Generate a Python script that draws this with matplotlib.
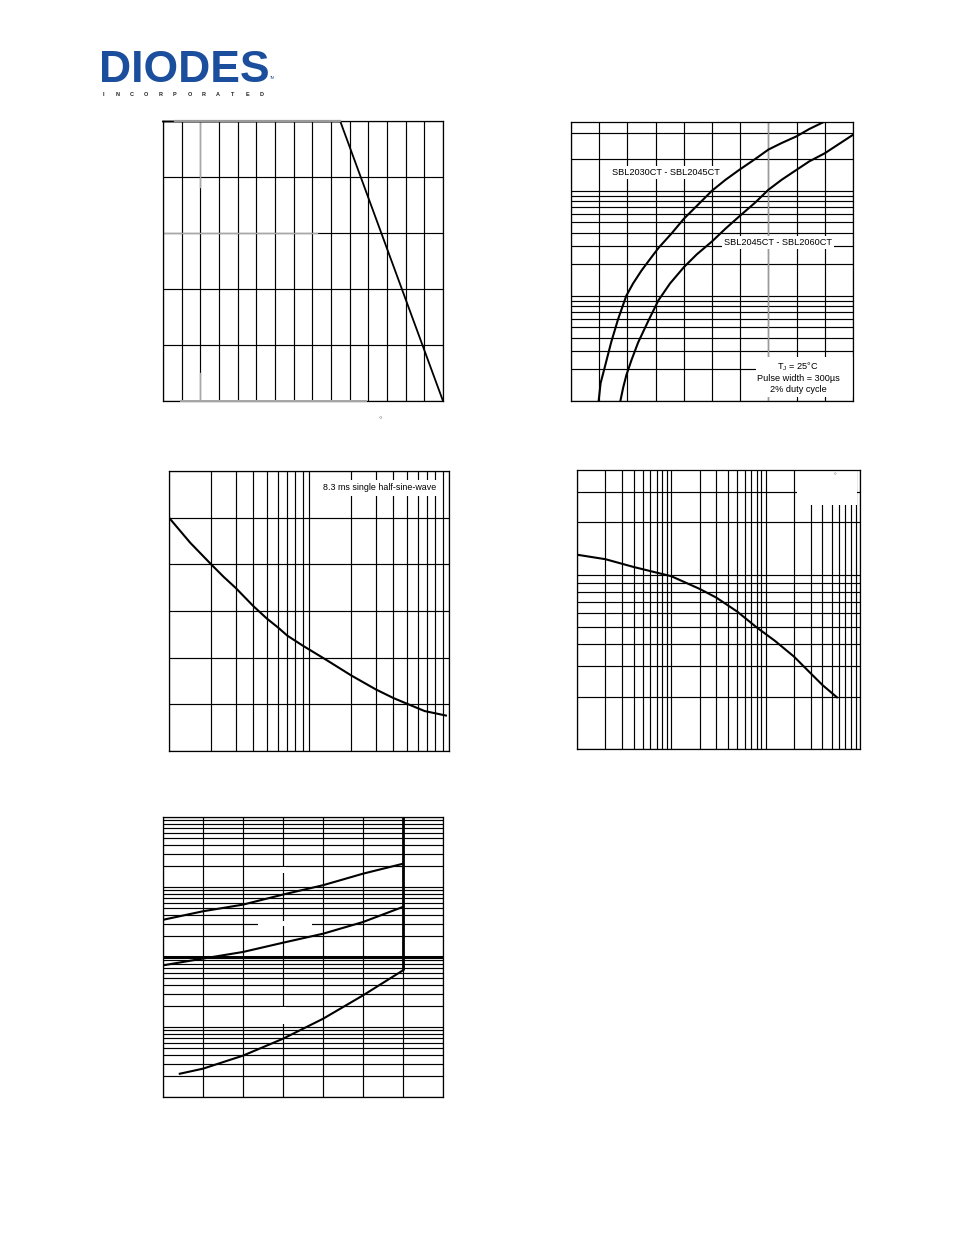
import matplotlib
matplotlib.use("Agg")
import matplotlib.pyplot as plt
import numpy as np
from matplotlib.patches import Rectangle
from matplotlib.ticker import FixedLocator

plt.rcParams['font.family'] = ['Liberation Sans', 'DejaVu Sans']
plt.rcParams['mathtext.fontset'] = 'custom'
plt.rcParams['mathtext.rm'] = 'Liberation Sans'

W, H = 954, 1235

# Fig 1 - forward current derating (case temp vs average current)
derate_temp = [0, 95, 150]
derate_current = [20, 20, 0]

# Fig 2 - typical forward characteristics (VF vs IF)
vf_low = [0.098, 0.105, 0.119, 0.131, 0.143, 0.167, 0.196, 0.220, 0.25, 0.280, 0.31, 0.357,
          0.40, 0.452, 0.50, 0.548, 0.597, 0.653, 0.70, 0.747, 0.80, 0.845, 0.894]
if_low = [0.1, 0.148, 0.206, 0.275, 0.366, 0.60, 1.0, 1.31, 1.74, 2.23, 2.85, 3.93,
          5.4, 7.43, 10.0, 12.7, 15.8, 20.0, 24.6, 28.4, 32.9, 38.6, 44.7]
vf_high = [0.175, 0.185, 0.196, 0.214, 0.238, 0.274, 0.31, 0.351, 0.40, 0.446, 0.50, 0.548,
           0.60, 0.653, 0.70, 0.747, 0.80, 0.845, 0.90, 1.0]
if_high = [0.1, 0.134, 0.175, 0.243, 0.36, 0.577, 0.906, 1.31, 1.87, 2.48, 3.29, 4.36,
           5.8, 7.7, 10.2, 12.7, 15.8, 19.0, 22.7, 34.0]
label_low = "SBL2030CT - SBL2045CT"
label_high = "SBL2045CT - SBL2060CT"

# Fig 3 - max non-repetitive surge current
surge_cycles = [1, 1.42, 2, 2.46, 3, 4, 5, 6, 7, 9, 13.2, 20, 30, 40, 50, 67, 95]
surge_current = [250, 223, 200, 186.5, 174.6, 155.3, 141.9, 132.4, 123.6, 113, 97.9, 81, 66,
                 56.8, 50.7, 42.8, 38]

# Fig 4 - typical junction capacitance
cap_vr = [0.1, 0.2, 0.4, 1, 2, 3, 5, 8, 12.6, 20, 30, 40, 57]
cap_pf = [1305, 1230, 1109, 982, 830, 740, 615, 500, 417, 339, 272, 233, 198]

# Fig 5 - typical reverse characteristics
vr_hot = [0, 10, 20, 30, 40, 50, 60]
ir_hot = [3.4, 4.5, 5.6, 7.8, 10.6, 15.5, 21.5]
vr_mid = [0, 10, 20, 30, 40, 50, 60]
ir_mid = [0.76, 0.95, 1.18, 1.6, 2.15, 3.16, 5.2]
vr_cold = [4.2, 10, 20, 30, 40, 50, 60]
ir_cold = [0.0215, 0.0254, 0.039, 0.068, 0.131, 0.283, 0.645]
vr_rated = 60

GRID_LW = 0.85
CURVE_LW = 1.5


def panel(left, top, right, bottom):
    ax = fig.add_axes([left / W, 1 - bottom / H, (right - left) / W, (bottom - top) / H])
    ax.tick_params(which='both', length=0, labelbottom=False, labelleft=False)
    for s in ax.spines.values():
        s.set_linewidth(0.9)
    return ax


def log_grid(lo_exp, hi_exp, extra=()):
    majors = [10.0 ** e for e in range(lo_exp, hi_exp + 1)]
    minors = [m * 10.0 ** e for e in range(lo_exp, hi_exp) for m in range(2, 10)]
    return majors, minors + list(extra)


fig = plt.figure(figsize=(W / 100, H / 100), dpi=100)

# logo
fig.text(99 / W, 1 - 81.5 / H, "DIODES", fontsize=32, fontweight='bold', color='#1b4f9e',
         ha='left', va='baseline')
fig.text(270 / W, 1 - 78 / H, "TM", fontsize=2.5, color='#1b4f9e', ha='left', va='center')
for i, ch in enumerate("INCORPORATED"):
    fig.text((103 + i * 14.4) / W, 1 - 94 / H, ch, fontsize=4.0, fontweight='bold',
             ha='center', va='center', color='#222222')

# ---- Fig 1
ax1 = panel(163, 121.5, 443, 401)
ax1.set_xlim(0, 150)
ax1.set_ylim(0, 20)
ax1.set_xticks(np.arange(0, 151, 10))
ax1.set_yticks(np.arange(0, 21, 4))
ax1.grid(True, color='k', lw=GRID_LW)
ax1.plot(derate_temp, derate_current, color='k', lw=1.3, clip_on=False, zorder=3)
ax1.axhline(20, xmin=0.042, xmax=0.633, color='#9a9a9a', lw=1.6, zorder=4, clip_on=False)
ax1.axhline(12, xmax=0.55, color='#a8a8a8', lw=1.0, zorder=2)
ax1.axvline(20, ymin=0.767, color='#a8a8a8', lw=1.0, zorder=2)
ax1.axvline(20, ymax=0.1, color='#a8a8a8', lw=1.0, zorder=2)
ax1.axhline(0, xmin=0.065, xmax=0.726, color='#a8a8a8', lw=1.4, zorder=4, clip_on=False)
fig.text(380 / W, 1 - 421 / H, "\u00b0", fontsize=6, color='#777777', ha='center', va='center')

# ---- Fig 2
ax2 = panel(571, 122, 853, 401)
ax2.set_xlim(0, 1.0)
ax2.set_yscale('log')
ax2.set_ylim(0.1, 45)
ax2.set_xticks(np.arange(0, 1.01, 0.1))
maj, mnr = log_grid(-1, 1, extra=(20, 35))
ax2.yaxis.set_major_locator(FixedLocator(maj))
ax2.yaxis.set_minor_locator(FixedLocator(mnr))
ax2.grid(True, which='both', color='k', lw=GRID_LW)
ax2.axvline(0.7, color='#9a9a9a', lw=1.0, zorder=1.8)
ax2.plot(vf_low, if_low, color='k', lw=CURVE_LW, zorder=3)
ax2.plot(vf_high, if_high, color='k', lw=CURVE_LW, zorder=3)
ax2.text(0.337, 14.9, label_low, fontsize=6.6, ha='center', va='center', zorder=2.2,
         bbox=dict(facecolor='white', edgecolor='none', pad=1.5))
ax2.text(0.734, 3.22, label_high, fontsize=6.6, ha='center', va='center', zorder=2.2,
         bbox=dict(facecolor='white', edgecolor='none', pad=1.5))
ax2.add_patch(Rectangle((0.656, 0.014), 0.344, 0.144, transform=ax2.transAxes,
                        facecolor='white', edgecolor='none', zorder=2))
ax2.text(0.805, 0.086, "T$_\\mathrm{J}$ = 25\u00b0C\nPulse width = 300\u00b5s\n2% duty cycle",
         transform=ax2.transAxes, fontsize=6.6, ha='center', va='center', zorder=2.2,
         linespacing=1.25)

# ---- Fig 3
ax3 = panel(169, 471, 449, 751)
ax3.set_xscale('log')
ax3.set_xlim(1, 100)
ax3.set_ylim(0, 300)
maj, mnr = log_grid(0, 2)
ax3.xaxis.set_major_locator(FixedLocator(maj))
ax3.xaxis.set_minor_locator(FixedLocator(mnr))
ax3.set_yticks(np.arange(0, 301, 50))
ax3.grid(True, which='both', color='k', lw=GRID_LW)
ax3.plot(surge_cycles, surge_current, color='k', lw=CURVE_LW, zorder=3)
ax3.text(32, 282, "8.3 ms single half-sine-wave", fontsize=6.4, ha='center', va='center',
         zorder=2.2, bbox=dict(facecolor='white', edgecolor='none', pad=2.5))

# ---- Fig 4
ax4 = panel(577, 470, 860, 749)
ax4.set_xscale('log')
ax4.set_yscale('log')
ax4.set_xlim(0.1, 100)
ax4.set_ylim(100, 4000)
maj, mnr = log_grid(-1, 2)
ax4.xaxis.set_major_locator(FixedLocator(maj))
ax4.xaxis.set_minor_locator(FixedLocator(mnr))
maj, mnr = log_grid(2, 3, extra=(2000, 3000))
ax4.yaxis.set_major_locator(FixedLocator(maj))
ax4.yaxis.set_minor_locator(FixedLocator(mnr))
ax4.grid(True, which='both', color='k', lw=GRID_LW)
ax4.plot(cap_vr, cap_pf, color='k', lw=CURVE_LW, zorder=3)
ax4.add_patch(Rectangle((0.777, 0.875), 0.213, 0.122, transform=ax4.transAxes,
                        facecolor='white', edgecolor='none', zorder=2))
ax4.text(0.912, 0.975, "\u00b0", transform=ax4.transAxes, fontsize=5, color='#777777',
         ha='center', va='center', zorder=2.2)

# ---- Fig 5
ax5 = panel(163, 817, 443, 1097)
ax5.set_xlim(0, 70)
ax5.set_yscale('log')
ax5.set_ylim(0.01, 100)
ax5.set_xticks(np.arange(0, 71, 10))
maj, mnr = log_grid(-2, 2)
ax5.yaxis.set_major_locator(FixedLocator(maj))
ax5.yaxis.set_minor_locator(FixedLocator(mnr))
ax5.grid(True, which='both', color='k', lw=GRID_LW)
ax5.axhline(1, color='k', lw=2.2, zorder=1.6)
for (x0, x1, y0, y1) in [(29.2, 30.8, 15.8, 19.3), (23.8, 37.3, 2.8, 3.3), (29.2, 30.8, 0.11, 0.19)]:
    ax5.add_patch(Rectangle((x0, y0), x1 - x0, y1 - y0, facecolor='white', edgecolor='none', zorder=2))
ax5.plot(vr_hot, ir_hot, color='k', lw=CURVE_LW, zorder=3)
ax5.plot(vr_mid, ir_mid, color='k', lw=CURVE_LW, zorder=3)
ax5.plot(vr_cold, ir_cold, color='k', lw=CURVE_LW, zorder=3)
ax5.vlines(vr_rated, ir_cold[-1], 100, color='k', lw=2.0, zorder=3)

fig.savefig("out.png", dpi=100)
